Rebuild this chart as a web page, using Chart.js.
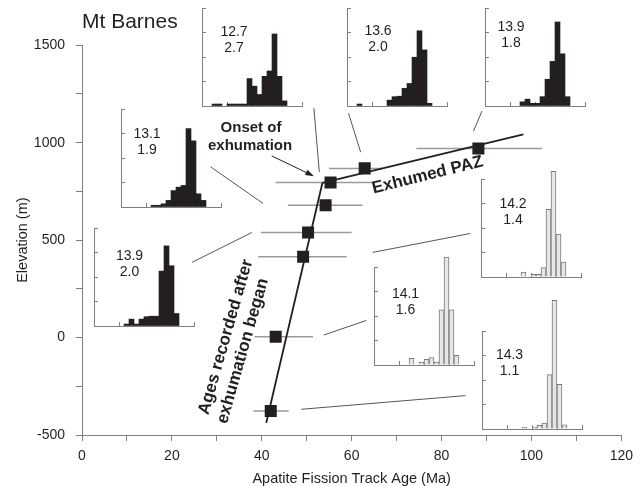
<!DOCTYPE html>
<html>
<head>
<meta charset="utf-8">
<script src="https://cdn.jsdelivr.net/npm/chart.js@4.4.0/dist/chart.umd.min.js"></script>
<style>
  body { margin: 0; background: #fff; }
  #wrap { position: relative; width: 640px; height: 486px; }
  #wrap canvas { position: absolute; left: 0; top: 0; }
</style>
</head>
<body>
<div id="wrap"><canvas id="main" width="640" height="486"></canvas></div>
<script>
// central ages (Ma) and sample elevations (m)
const ages = [42.0, 43.1, 49.2, 50.3, 54.2, 55.3, 62.9, 88.2];
const elevations = [-377, 4, 415, 539, 679, 796, 868, 970];
const ageLow = [38.1, 38.4, 39.2, 39.8, 45.8, 43.1, 55.0, 74.4];
const ageHigh = [46.0, 51.4, 58.9, 60.0, 62.4, 64.5, 67.0, 102.4];

// the two trend lines, meeting at the break in slope
const steepAge = [41.0, 53.5];
const steepElev = [-437, 794];
const pazAge = [53.5, 98.2];
const pazElev = [794, 1042];

// leader lines from each histogram to its sample
const leaderAge = [[51.6, 52.8], [59.3, 62.0], [89.0, 87.1], [28.6, 40.3], [24.5, 37.8], [64.7, 86.4], [53.8, 63.3], [48.8, 85.3]];
const leaderElev = [[1177, 849], [1151, 951], [1162, 1059], [876, 688], [386, 539], [437, 534], [13, 88], [-368, -298]];
const arrowAge = [42.2, 51.6];
const arrowElev = [932, 828];

// track length histograms, 1 um bins from 0 to 20 um
const hist127 = [0,0,0.8,0.8,0,0.8,0.8,0.8,0.8,11.2,8.1,4.7,12.1,14.3,29.4,12.1,2.1,0,0,0];
const hist131 = [0,0,0,0,0,0,0.7,0.7,1.3,2.7,6.7,8.1,8.8,32,27,5.4,2.7,0,0,0];
const hist136 = [0,0,0.8,0,0,0,0,0,2.4,3.8,4,7.2,9.2,19.9,30.7,22.9,1.1,0,0,0];
const hist139a = [0,0,0,0,0,0,0,1.7,2.8,1.1,1.1,3.8,10.9,18.2,34.3,21.3,3.8,0,0,0];
const hist139b = [0,0,0,0,0,0,0.8,2.8,0.8,2.8,3.8,4,4,22.4,32.7,24.6,5.1,0,0,0];
const hist142 = [0,0,0,0,0,0,0,0,2,0,1.1,1.1,3.8,27.6,43.1,17.5,6.1,0,0,0];
const hist141 = [0,0,0,0,0,0,0,2.7,0,1.2,2.3,3,1.2,22.5,44,22.5,3.9,0,0,0];
const hist143 = [0,0,0,0,0,0,0,0,0.7,0,0.7,1.5,2.4,22.2,52.5,18.2,1.7,0,0,0];
const meanLength = [12.7, 13.1, 13.6, 13.9, 13.9, 14.2, 14.1, 14.3];
const sdLength = [2.7, 1.9, 2.0, 1.8, 2.0, 1.4, 1.6, 1.1];
const histograms = [hist127, hist131, hist136, hist139a, hist139b, hist142, hist141, hist143];
const unexhumed = [false, false, false, false, false, true, true, true];

const ink = '#231f20';
const axisGrey = '#808080';
Chart.defaults.font.family = '"Liberation Sans", Arial, Helvetica, sans-serif';
Chart.defaults.color = ink;

function segments(xs, ys) {
  const pts = [];
  xs.forEach((x, i) => {
    pts.push({x: x[0], y: ys[i][0]}, {x: x[1], y: ys[i][1]}, {x: x[1], y: null});
  });
  return pts;
}

const errorBars = segments(ages.map((a, i) => [ageLow[i], ageHigh[i]]), elevations.map(e => [e, e]));

const labels = [
  {text: 'Onset of', age: 37.6, elev: 1074, angle: 0, size: 15},
  {text: 'exhumation', age: 37.4, elev: 982, angle: 0, size: 15},
  {text: 'Exhumed PAZ', age: 76.9, elev: 833, angle: -14, size: 17},
  {text: 'Ages recorded after', age: 32.0, elev: 3, angle: -74, size: 17},
  {text: 'exhumation began', age: 35.8, elev: -69, angle: -74, size: 17}
];

const annotate = {
  id: 'annotate',
  afterDatasetsDraw(chart) {
    const {ctx, scales: {x, y}} = chart;
    ctx.save();
    ctx.fillStyle = ink;
    ctx.strokeStyle = ink;
    ctx.lineWidth = 1;
    const x1 = x.getPixelForValue(arrowAge[0]), y1 = y.getPixelForValue(arrowElev[0]);
    const x2 = x.getPixelForValue(arrowAge[1]), y2 = y.getPixelForValue(arrowElev[1]);
    const a = Math.atan2(y2 - y1, x2 - x1);
    ctx.beginPath();
    ctx.moveTo(x1, y1);
    ctx.lineTo(x2 - 6 * Math.cos(a), y2 - 6 * Math.sin(a));
    ctx.stroke();
    ctx.beginPath();
    ctx.moveTo(x2, y2);
    ctx.lineTo(x2 - 9 * Math.cos(a - 0.33), y2 - 9 * Math.sin(a - 0.33));
    ctx.lineTo(x2 - 9 * Math.cos(a + 0.33), y2 - 9 * Math.sin(a + 0.33));
    ctx.closePath();
    ctx.fill();

    labels.forEach(l => {
      ctx.save();
      ctx.translate(x.getPixelForValue(l.age), y.getPixelForValue(l.elev));
      ctx.rotate(l.angle * Math.PI / 180);
      ctx.font = 'bold ' + l.size + 'px "Liberation Sans", Arial, sans-serif';
      ctx.textAlign = 'center';
      ctx.textBaseline = 'middle';
      ctx.fillText(l.text, 0, 0);
      ctx.restore();
    });
    ctx.restore();
  }
};

new Chart(document.getElementById('main'), {
  type: 'scatter',
  data: {
    datasets: [
      {
        data: ages.map((a, i) => ({x: a, y: elevations[i]})),
        pointStyle: 'rect',
        pointRadius: 8.5,
        backgroundColor: ink,
        borderWidth: 0,
        order: 0
      },
      {
        data: [{x: steepAge[0], y: steepElev[0]}, {x: steepAge[1], y: steepElev[1]}],
        showLine: true, pointRadius: 0, borderColor: ink, borderWidth: 1.8, order: 1
      },
      {
        data: [{x: pazAge[0], y: pazElev[0]}, {x: pazAge[1], y: pazElev[1]}],
        showLine: true, pointRadius: 0, borderColor: ink, borderWidth: 1.8, order: 1
      },
      {
        data: errorBars,
        showLine: true, pointRadius: 0, borderColor: '#9a9a9a', borderWidth: 1.5, order: 2
      },
      {
        data: segments(leaderAge, leaderElev),
        showLine: true, pointRadius: 0, borderColor: '#555', borderWidth: 1, order: 3
      }
    ]
  },
  options: {
    responsive: false,
    animation: false,
    events: [],
    layout: {padding: {left: 0, right: 18, top: 0, bottom: 0}},
    plugins: {
      legend: {display: false},
      tooltip: {enabled: false},
      title: {
        display: true,
        text: 'Mt Barnes',
        align: 'start',
        fullSize: false,
        color: ink,
        font: {size: 21, weight: 'normal'},
        padding: {top: 10, bottom: 10}
      }
    },
    scales: {
      x: {
        type: 'linear',
        min: 0, max: 120,
        afterFit: s => { s.height = 51; },
        border: {color: axisGrey, width: 1},
        grid: {drawOnChartArea: false, tickLength: 6, tickColor: axisGrey},
        ticks: {
          stepSize: 10, padding: 7, color: ink, font: {size: 14},
          maxRotation: 0, autoSkip: false,
          callback: v => v % 20 === 0 ? v : ''
        },
        title: {
          display: true, text: 'Apatite Fission Track Age (Ma)', color: ink,
          font: {size: 14.5, lineHeight: 1}, padding: {top: 0, bottom: 0}
        }
      },
      y: {
        min: -500, max: 1500,
        afterFit: s => { s.width = 82; },
        border: {color: axisGrey, width: 1},
        grid: {drawOnChartArea: false, tickLength: 6, tickColor: axisGrey},
        ticks: {
          stepSize: 250, padding: 11, color: ink, font: {size: 14},
          autoSkip: false,
          callback: v => v % 500 === 0 ? v : ''
        },
        title: {
          display: true, text: 'Elevation (m)', color: ink,
          font: {size: 14.5}, padding: {top: 14, bottom: 0}
        }
      }
    }
  },
  plugins: [annotate]
});

// inset placement: axis corner (left, bottom) in page pixels, text centre offset from top-left
const insetBoxes = [
  {left: 202, bottom: 106, tx: 32, ty: 32},
  {left: 121, bottom: 207, tx: 26, ty: 33.5},
  {left: 347, bottom: 106, tx: 31, ty: 31},
  {left: 485, bottom: 106, tx: 26, ty: 27.5},
  {left: 94, bottom: 326, tx: 35.5, ty: 36.5},
  {left: 481, bottom: 277, tx: 32, ty: 33.5},
  {left: 374, bottom: 365, tx: 31.5, ty: 35},
  {left: 482, bottom: 429, tx: 27.5, ty: 32.5}
];
const insetW = 100, insetH = 98, padL = 2, padT = 42, padR = 10, padB = 5;

const insetText = {
  id: 'insetText',
  afterDraw(chart, args, opts) {
    const {ctx, chartArea} = chart;
    ctx.save();
    ctx.fillStyle = ink;
    ctx.font = '14px "Liberation Sans", Arial, sans-serif';
    ctx.textAlign = 'center';
    ctx.textBaseline = 'middle';
    const cx = chartArea.left + opts.tx, cy = chartArea.top + opts.ty;
    ctx.fillText(opts.mean.toFixed(1), cx, cy - 8);
    ctx.fillText(opts.sd.toFixed(1), cx, cy + 8);
    ctx.restore();
  }
};

const wrap = document.getElementById('wrap');
histograms.forEach((counts, k) => {
  const box = insetBoxes[k];
  const cv = document.createElement('canvas');
  cv.width = insetW + padL + padR;
  cv.height = insetH + padT + padB;
  cv.style.left = (box.left - padL) + 'px';
  cv.style.top = (box.bottom - insetH - padT) + 'px';
  wrap.appendChild(cv);
  const pts = [];
  counts.forEach((c, i) => { if (c > 0) pts.push({x: i + 0.5, y: c}); });
  const grey = unexhumed[k];
  const axisOpts = {
    border: {color: axisGrey, width: 1},
    grid: {drawOnChartArea: false, drawTicks: true, tickLength: -4, tickColor: axisGrey},
    ticks: {display: false}
  };
  new Chart(cv, {
    type: 'bar',
    data: {
      datasets: [{
        data: pts,
        backgroundColor: grey ? '#e6e6e6' : ink,
        borderColor: grey ? '#7a7a7a' : ink,
        borderWidth: grey ? 1 : 0,
        barPercentage: 1,
        categoryPercentage: 1,
        clip: false
      }]
    },
    options: {
      responsive: false,
      animation: false,
      events: [],
      layout: {padding: {left: padL, right: padR, top: padT, bottom: padB}},
      plugins: {
        legend: {display: false},
        tooltip: {enabled: false},
        insetText: {mean: meanLength[k], sd: sdLength[k], tx: box.tx, ty: box.ty}
      },
      scales: {
        x: Object.assign({}, axisOpts, {
          type: 'linear', min: 0, max: 20, offset: false,
          afterFit: s => { s.height = 0; },
          ticks: {display: false, stepSize: 5},
          grid: Object.assign({}, axisOpts.grid, {offset: false})
        }),
        y: Object.assign({}, axisOpts, {
          min: 0, max: 40,
          afterFit: s => { s.width = 0; },
          ticks: {display: false, stepSize: 10}
        })
      }
    },
    plugins: [insetText]
  });
});
</script>
</body>
</html>
